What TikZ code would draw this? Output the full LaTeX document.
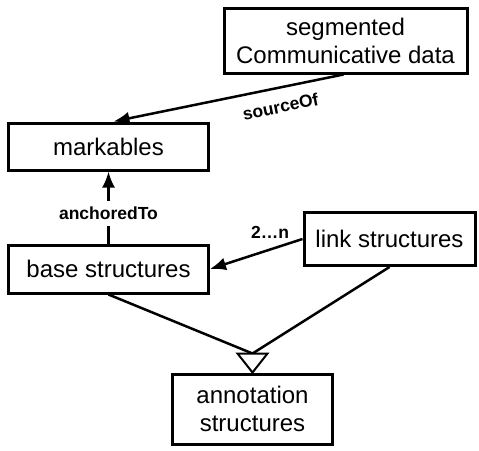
\documentclass[tikz,border=0pt]{standalone}
\usepackage{fontspec}
\setmainfont{Liberation Sans}
\usetikzlibrary{arrows.meta,calc}
\tikzset{
  box/.style={draw, line width=3pt, align=center, inner sep=0pt,
    font=\fontsize{24}{28}\selectfont},
  conn/.style={line width=2.5pt},
  arr/.style={conn, -{Latex[length=16pt,width=13pt]}},
  lbl/.style={font=\fontsize{17.5}{20}\selectfont\bfseries, inner sep=0pt},
}
\begin{document}
\begin{tikzpicture}[x=1pt,y=-1pt]
\useasboundingbox (0,0) rectangle (479,450);
\node[box, minimum width=243pt, minimum height=65pt] (seg) at (345.5,40.5) {segmented\\Communicative data};
\node[box, minimum width=200pt, minimum height=47pt] (mark) at (108.5,146.5) {markables};
\node[box, minimum width=200pt, minimum height=48pt] (base) at (108.5,269) {base structures};
\node[box, minimum width=171pt, minimum height=53pt] (link) at (389.5,239) {link structures};
\node[box, minimum width=160pt, minimum height=70pt] (ann) at (252.5,409) {annotation\\structures};
% sourceOf
\draw[arr] ($(seg.south)+(-2,0)$) -- node[lbl, pos=0.29, sloped, below=11pt] {sourceOf} ($(mark.north)+(5,0)$);
% anchoredTo
\draw[arr] (base.north) -- node[lbl, pos=0.42, fill=white, inner sep=6pt] {anchoredTo} (mark.south);
% link -> base
\draw[arr] (link.west) -- node[lbl, pos=0.35, above=10pt] {2\dots n} (base.east);
% generalization
\coordinate (tb) at ($(ann.north)+(0,-19)$);
\draw[conn] (base.south) -- (tb);
\draw[conn] (link.south) -- (tb);
\draw[line width=2pt, fill=white, line join=miter] (ann.north) -- ++(-15,-19) -- ++(30,0) -- cycle;
\end{tikzpicture}
\end{document}
